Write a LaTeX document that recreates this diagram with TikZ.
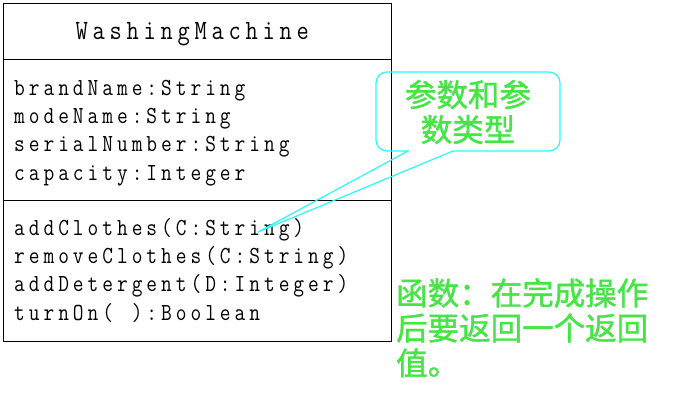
\documentclass[tikz,border=0pt]{standalone}
\usepackage{fontspec}
\newfontfamily\cjk[FakeBold=1.3]{Noto Sans CJK SC}
\newfontfamily\umlmono[FakeStretch=0.85]{Latin Modern Mono}
\definecolor{txtgreen}{RGB}{70,228,70}
\definecolor{callcyan}{RGB}{40,250,250}
\ExplSyntaxOn
\NewDocumentCommand\spaced{mm}{\str_map_inline:nn {#2} {\makebox[#1][c]{##1}}}
\ExplSyntaxOff
\tikzset{
  umlline/.style={draw=black, line width=1pt},
  member/.style={anchor=base west, inner sep=0pt, font=\umlmono\fontsize{24.5}{28}\selectfont},
  title/.style={anchor=base west, inner sep=0pt, font=\umlmono\fontsize{28}{32}\selectfont},
  callout/.style={draw=callcyan, line width=1.2pt},
  note/.style={inner sep=0pt, text=txtgreen, font=\cjk\fontsize{31.5}{35}\selectfont},
}
\begin{document}
\begin{tikzpicture}[x=1pt,y=-1pt]
\useasboundingbox (0,0) rectangle (696,405);
% class box
\coordinate (tl) at (3,3);
\coordinate (br) at (391,341);
\draw[umlline] (tl) rectangle (br);
\draw[umlline] (3,59) coordinate (d1l) -- (391,59) coordinate (d1r);
\draw[umlline] (3,200) coordinate (d2l) -- (391,200) coordinate (d2r);
\node[title] (t) at (73,39.5) {\spaced{17pt}{WashingMachine}};
\node[member] (a1) at (12,95) {\spaced{14.7pt}{brandName:String}};
\node[member] (a2) at (12,123.2) {\spaced{14.7pt}{modeName:String}};
\node[member] (a3) at (12,151.6) {\spaced{14.7pt}{serialNumber:String}};
\node[member] (a4) at (12,180) {\spaced{14.7pt}{capacity:Integer}};
\node[member] (m1) at (12,235) {\spaced{14.7pt}{addClothes(C:String)}};
\node[member] (m2) at (12,263.3) {\spaced{14.7pt}{removeClothes(C:String)}};
\node[member] (m3) at (12,291.7) {\spaced{14.7pt}{addDetergent(D:Integer)}};
\node[member] (m4) at (12,320) {\spaced{14.7pt}{turnOn( ):Boolean}};
% callout
\coordinate (tip) at (258,232);
\draw[callout] (408,151) -- (tip) -- (453,151)
  {[rounded corners=11] -- (560,151) -- (560,72) -- (376,72) -- (376,151)} -- cycle;
\node[note, align=center] (c) at (468,112) {参数和参\\数类型};
\node[note, align=left, anchor=north west] (f) at (396,278) {函数：在完成操作\\后要返回一个返回\\值。};
\end{tikzpicture}
\end{document}
